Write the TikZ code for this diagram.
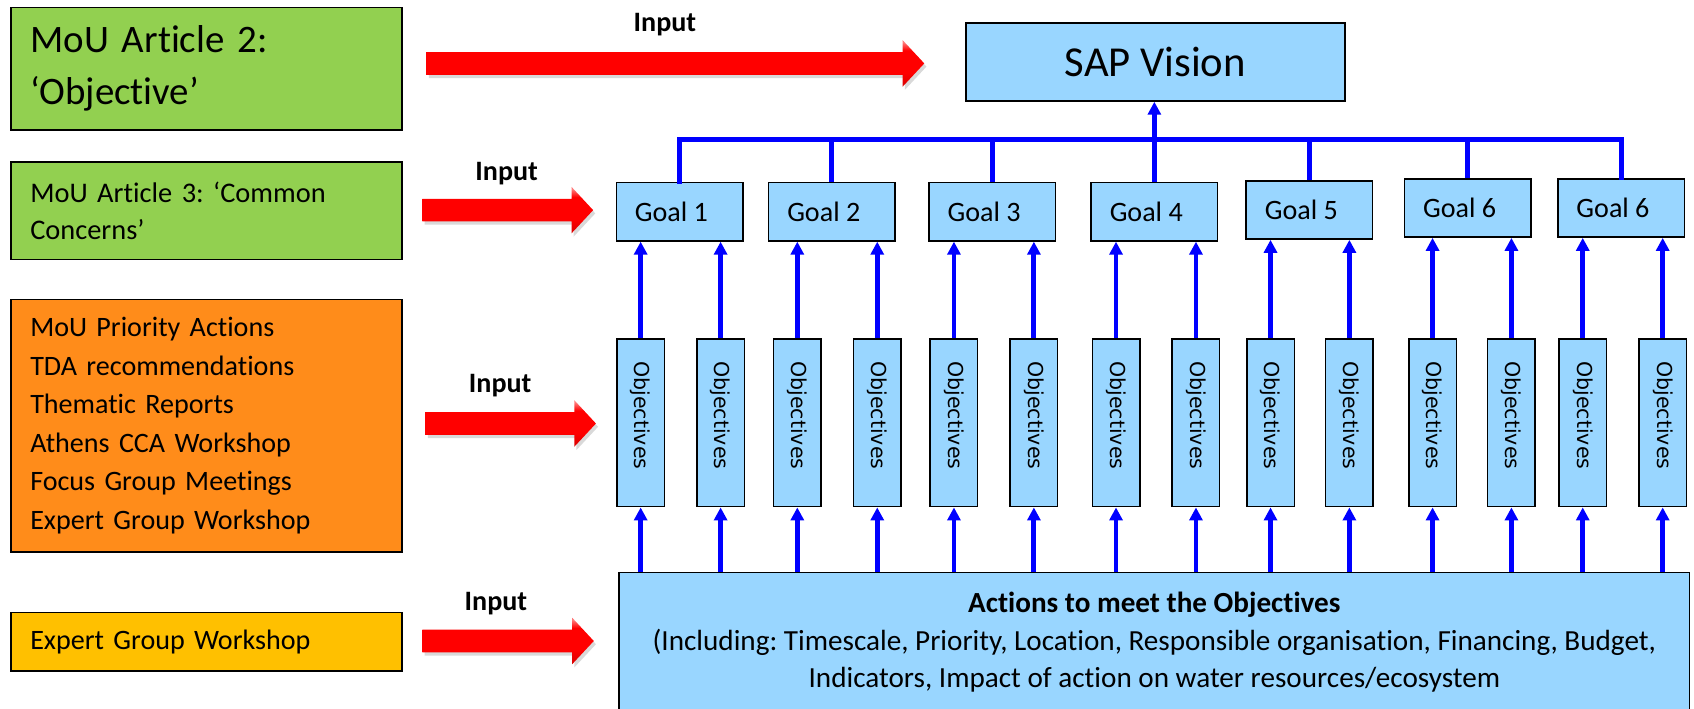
\documentclass[tikz,border=0pt]{standalone}
\usepackage{fontspec}
\setmainfont{Carlito}[Ligatures=NoCommon]
\newfontfamily\objfont{DejaVu Sans}
\usetikzlibrary{arrows.meta,shadows,calc}
\definecolor{lblue}{HTML}{99D6FF}
\definecolor{mgreen}{HTML}{92D050}
\definecolor{morange}{HTML}{FF8C1A}
\definecolor{mamber}{HTML}{FFC000}
\definecolor{mblue}{HTML}{0000FF}
\pgfdeclareverticalshading{redgloss}{100bp}{color(0bp)=(red!80!black); color(26bp)=(red!85!black); color(40bp)=(red); color(64bp)=(red); color(73bp)=(red!50!white); color(80bp)=(red!75!white); color(100bp)=(red!80!white)}
\newcommand\fatarrow[3]{%
  \path[redarr] (#1,#3-10.5) -- (#2-20,#3-10.5) -- (#2-20,#3-21.5) -- (#2,#3)
    -- (#2-20,#3+21.5) -- (#2-20,#3+10.5) -- (#1,#3+10.5) -- cycle;}
\frenchspacing
\begin{document}
\begin{tikzpicture}[x=1pt,y=-1pt,
  box/.style={draw=black, line width=1.4pt, inner sep=0pt},
  leftbox/.style={box, minimum width=362pt, text width=326pt, inner xsep=18pt, align=left},
  goalbox/.style={box, fill=lblue, minimum width=117pt, minimum height=54pt, font=\fontsize{26}{30}\selectfont},
  objbox/.style={box, fill=lblue, minimum width=44pt, minimum height=155pt, font=\objfont\fontsize{19}{22}\selectfont},
  inlabel/.style={font=\bfseries\fontsize{26}{30}\selectfont, inner sep=0pt},
  blueline/.style={draw=mblue, line width=4.5pt},
  bluearrow/.style={blueline, -{Triangle[length=12pt,width=12pt]}},
  redarr/.style={shading=redgloss,
    drop shadow={shadow xshift=2pt, shadow yshift=-3pt, opacity=0.3}}
]
\useasboundingbox (0,0) rectangle (1568,655.4);

% left boxes
\node[leftbox, fill=mgreen, minimum height=113.5pt, font=\fontsize{36}{48}\selectfont] (a1) at (191,63.5) {MoU Article 2:\\‘Objective’};
\node[leftbox, fill=mgreen, minimum height=90pt, font=\fontsize{26.3}{34}\selectfont] (a2) at (191,195) {MoU Article 3: ‘Common\\Concerns’};
\node[leftbox, fill=morange, minimum height=234pt, font=\fontsize{26}{35.6}\selectfont] (a3) at (191,394) {MoU Priority Actions\\TDA recommendations\\Thematic Reports\\Athens CCA Workshop\\Focus Group Meetings\\Expert Group Workshop};
\node[leftbox, fill=mamber, minimum height=54pt, font=\fontsize{26}{30}\selectfont] (a4) at (191,594) {Expert Group Workshop};

% red input arrows
\fatarrow{395}{855.5}{58.7}
\fatarrow{391}{549}{194.5}
\fatarrow{394}{551.6}{392}
\fatarrow{391}{549.6}{593.3}
\node[inlabel] (in1) at (615.5,23) {Input};
\node[inlabel] (in2) at (469,160.4) {Input};
\node[inlabel] (in3) at (463,357.3) {Input};
\node[inlabel] (in4) at (459,558.4) {Input};

% SAP vision
\node[box, fill=lblue, minimum width=351pt, minimum height=72pt, font=\fontsize{39.5}{44}\selectfont] (sap) at (1069.5,57.5) {SAP Vision};

% goals
\node[goalbox] (g1) at (629,196) {Goal 1\kern15pt};
\node[goalbox] (g2) at (770,196) {Goal 2\kern15pt};
\node[goalbox] (g3) at (918.5,196) {Goal 3\kern15pt};
\node[goalbox] (g4) at (1068.5,196) {Goal 4\kern15pt};
\node[goalbox] (g5) at (1212,194.3) {Goal 5\kern15pt};
\node[goalbox] (g6) at (1358.5,192.5) {Goal 6\kern15pt};
\node[goalbox] (g7) at (1500.5,192.5) {Goal 6\kern15pt};

% actions
\node[box, fill=lblue, minimum width=991pt, minimum height=129pt, align=center, font=\fontsize{27}{34.5}\selectfont] (act) at (1068.5,594.5)
  {\textbf{Actions to meet the Objectives}\\(Including: Timescale, Priority, Location, Responsible organisation, Financing, Budget,\\Indicators, Impact of action on water resources/ecosystem};

% objectives
\foreach \i/\cx in {1/593,2/667,3/738,4/812,5/883,6/957,7/1033,8/1107,9/1176,10/1249,11/1326,12/1399,13/1465,14/1539}{
  \node[objbox] (o\i) at (\cx,391.5) {\rotatebox{-90}{Objectives\kern14pt}};
}
\foreach \i in {1,...,14}{
  \pgfmathtruncatemacro\g{(\i+1)/2}
  \draw[bluearrow] (o\i.north) -- (o\i.north |- g\g.south);
  \draw[bluearrow] (o\i.south |- act.north) -- (o\i.south);
}

% bus to SAP vision
\coordinate (busL) at (g1.north |- 0,129);
\coordinate (busR) at (g7.north |- 0,129);
\draw[blueline, line cap=rect] (g1.north) -- (busL) -- (busR) -- (g7.north);
\foreach \k in {2,3,5,6}{
  \draw[blueline] (g\k.north) -- (g\k.north |- busL);
}
\draw[bluearrow] (g4.north) -- (g4.north |- sap.south);
\end{tikzpicture}
\end{document}
